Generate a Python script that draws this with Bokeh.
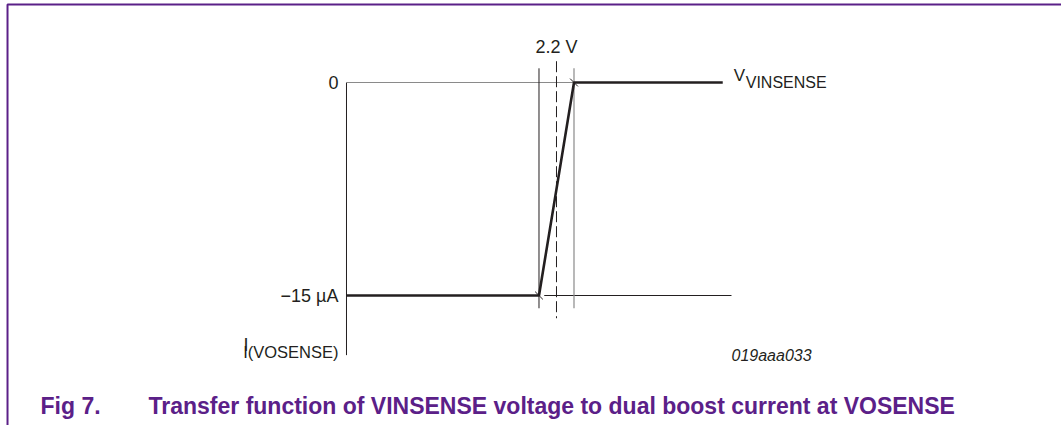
from bokeh.plotting import figure
from bokeh.models import Range1d
from bokeh.embed import file_html
from bokeh.resources import INLINE
from bokeh.core.properties import value

# ---- data (schematic values) ----
V_AXIS = 1.0          # start of the V_VINSENSE axis (V)
V_LOW = 2.1           # ramp start (V)
V_TH = 2.2            # threshold (V)
V_HIGH = 2.3          # ramp end (V)
V_END = 3.15          # end of thick output line (V)
V_REF_END = 3.2       # end of thin -15 uA reference line (V)
I_HIGH = 0.0          # uA
I_LOW = -15.0         # uA
I_AXIS_END = -19.2    # bottom of current axis (uA)
GUIDE_TOP = 1.0
GUIDE_BOT = -15.9
DASH_TOP = 1.5
DASH_BOT = -16.6
FRAME_V = -0.937
FRAME_I = 5.49

curve_v = [V_AXIS, V_LOW, V_HIGH, V_END]
curve_i = [I_LOW, I_LOW, I_HIGH, I_HIGH]

y_tick_values = [I_HIGH, I_LOW]
y_tick_labels = ["0", "\u221215 \u00b5A"]

FONT = "Liberation Sans"
PURPLE = "#5b2088"
INK = "#231f20"

W, H = 1061, 425
p = figure(width=W, height=H, output_backend="svg", toolbar_location=None,
           x_range=Range1d(-0.9771, 5.0857), y_range=Range1d(-24.155, 5.775),
           min_border=0, x_axis_location=None, y_axis_location=None)
p.grid.visible = False
p.outline_line_color = None
p.background_fill_color = "white"

# purple frame (top + left)
xr, yr = p.x_range, p.y_range
p.line([FRAME_V, FRAME_V, xr.end], [yr.start, FRAME_I, FRAME_I],
       line_color=PURPLE, line_width=2)

# current axis
p.line([V_AXIS, V_AXIS], [I_HIGH, I_AXIS_END], line_color=INK, line_width=1)
# zero reference line (gray)
p.line([V_AXIS, V_HIGH], [I_HIGH, I_HIGH], line_color="#8a8a8a", line_width=1)
# -15 uA reference line (thin)
p.line([V_LOW + 0.03, V_REF_END], [I_LOW, I_LOW], line_color=INK, line_width=1)
# guides
p.line([V_LOW, V_LOW], [GUIDE_TOP, GUIDE_BOT], line_color=INK, line_width=1)
p.line([V_HIGH, V_HIGH], [GUIDE_TOP, GUIDE_BOT], line_color="#8a8a8a", line_width=1.2)
p.line([V_TH, V_TH], [DASH_TOP, DASH_BOT], line_color=INK, line_width=1, line_dash="11 4")

# transfer curve
p.line(curve_v, curve_i, line_color=INK, line_width=2.6)
p.scatter([V_LOW, V_HIGH], [I_LOW, I_HIGH], marker="dash", size=11, angle=-0.785,
          line_color=INK, line_width=1)

# tick labels
p.text([V_AXIS, V_AXIS], y_tick_values, text=y_tick_labels, x_offset=-8,
       text_align="right", text_baseline="middle", text_font=value(FONT),
       text_font_size="18px", text_color=INK)

# axis name I_I(VOSENSE)
p.text([V_AXIS], [I_AXIS_END], text=["I"], x_offset=-103, y_offset=-10,
       text_align="left", text_baseline="middle", text_font=value(FONT),
       text_font_size="18px", text_color=INK)
p.text([V_AXIS], [I_AXIS_END], text=["I(VOSENSE)"], x_offset=-8, y_offset=-3,
       text_align="right", text_baseline="middle", text_font=value(FONT),
       text_font_size="16.5px", text_color=INK)

# V_VINSENSE label
p.text([V_END], [I_HIGH], text=["V"], x_offset=11, y_offset=-7,
       text_align="left", text_baseline="middle", text_font=value(FONT),
       text_font_size="17px", text_color=INK)
p.text([V_END], [I_HIGH], text=["VINSENSE"], x_offset=23, y_offset=0,
       text_align="left", text_baseline="middle", text_font=value(FONT),
       text_font_size="16px", text_color=INK)

# threshold label
p.text([V_TH], [DASH_TOP], text=["2.2 V"], y_offset=-14,
       text_align="center", text_baseline="middle", text_font=value(FONT),
       text_font_size="18px", text_color=INK)

# figure code
p.text([V_REF_END], [I_AXIS_END], text=["019aaa033"], x_offset=0, y_offset=0,
       text_align="left", text_baseline="middle", text_font=value(FONT),
       text_font_size="16px", text_font_style="italic", text_color=INK)

# caption
p.text([xr.start], [yr.start], text=["Fig 7."], x_offset=40, y_offset=-20,
       text_align="left", text_baseline="middle", text_font=value(FONT),
       text_font_size="23px", text_font_style="bold", text_color=PURPLE)
p.text([xr.start], [yr.start],
       text=["Transfer function of VINSENSE voltage to dual boost current at VOSENSE"],
       x_offset=148, y_offset=-20,
       text_align="left", text_baseline="middle", text_font=value(FONT),
       text_font_size="23px", text_font_style="bold", text_color=PURPLE)

open("out.html", "w").write(file_html(p, INLINE))
